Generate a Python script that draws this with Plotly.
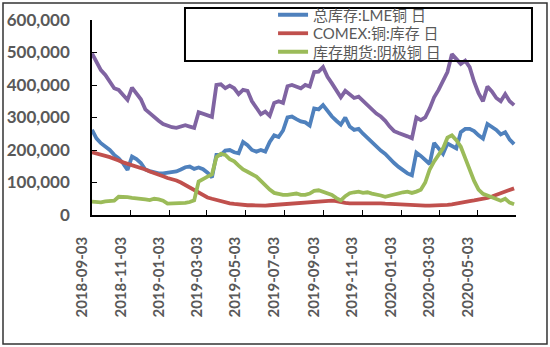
import pandas as pd
import plotly.graph_objects as go

# weekly observation dates (Mondays) starting 2018-09-03
start_date = "2018-09-03"
n_weeks = 96
dates = pd.date_range(start_date, periods=n_weeks, freq="7D")

# values in thousand tonnes
lme = [262, 236, 221, 210, 200, 185, 174, 159, 139, 180, 172, 160, 140, 135, 130, 128,
       128, 130, 133, 134, 140, 147, 149, 142, 146, 141, 130, 116, 185, 185, 198, 200,
       193, 190, 225, 215, 200, 195, 200, 195, 225, 245, 240, 260, 300, 303, 295, 288,
       285, 275, 328, 325, 338, 318, 303, 290, 278, 300, 272, 262, 265, 250, 236, 226,
       212, 198, 188, 172, 160, 148, 138, 128, 122, 192, 182, 170, 157, 222, 205, 188,
       220, 213, 205, 255, 265, 265, 258, 245, 235, 280, 272, 262, 248, 255, 232, 218]
comex = [193, 190, 186, 182, 178, 174, 168, 162, 158, 154, 150, 146, 140, 134, 128, 124,
         119, 114, 111, 106, 100, 92, 84, 76, 68, 60, 54, 50, 46, 42, 38, 36,
         34, 32, 31, 30, 30, 29, 29, 29, 30, 31, 32, 33, 34, 36, 37, 38,
         39, 40, 41, 42, 43, 44, 44, 43, 39, 37, 36, 36, 37, 38, 38, 37,
         36, 36, 35, 34, 33, 32, 32, 31, 30, 30, 29, 29, 29, 29, 29, 30,
         31, 33, 36, 39, 41, 43, 45, 47, 50, 53, 57, 62, 67, 72, 76, 82]
shfe = [41, 40, 39, 42, 43, 44, 56, 56, 55, 53, 52, 50, 48, 46, 50, 48,
        44, 35, 35, 36, 36, 37, 40, 45, 103, 112, 118, 125, 178, 188, 185, 172,
        165, 152, 140, 133, 125, 118, 105, 90, 78, 68, 64, 62, 62, 64, 66, 62,
        62, 66, 74, 76, 72, 68, 62, 52, 45, 58, 67, 70, 72, 68, 70, 66,
        64, 60, 56, 60, 62, 66, 70, 72, 68, 72, 78, 100, 140, 165, 185, 205,
        238, 245, 230, 210, 175, 140, 105, 78, 65, 60, 55, 50, 44, 50, 38, 33]
total = [497, 472, 446, 431, 412, 390, 385, 369, 354, 392, 376, 356, 325, 312, 303, 290,
         280, 274, 270, 268, 272, 276, 272, 268, 316, 312, 305, 302, 400, 402, 390, 398,
         390, 372, 385, 382, 350, 330, 310, 318, 305, 345, 350, 345, 396, 400, 396, 390,
         400, 395, 440, 441, 455, 425, 405, 383, 362, 382, 372, 360, 364, 350, 338, 323,
         312, 303, 290, 272, 258, 252, 248, 242, 236, 300, 292, 300, 328, 362, 385, 410,
         440, 495, 480, 465, 475, 455, 410, 375, 350, 395, 380, 360, 350, 372, 350, 338]

names = ["总库存:LME铜 日", "COMEX:铜:库存 日", "库存期货:阴极铜 日"]
tick_dates = ["2018-09-03", "2018-11-03", "2019-01-03", "2019-03-03", "2019-05-03",
              "2019-07-03", "2019-09-03", "2019-11-03", "2020-01-03", "2020-03-03",
              "2020-05-03"]
x_end = "2020-07-02"

colors = ["#4F81BD", "#C0504D", "#9BBB59", "#8064A2"]
series = [lme, comex, shfe, total]
labels = names + ["合计"]
legend_ids = ["legend", "legend2", "legend3", "legend"]

fig = go.Figure()
for i, (vals, nm, col) in enumerate(zip(series, labels, colors)):
    fig.add_trace(go.Scatter(
        x=dates, y=[v * 1000 for v in vals], mode="lines", name=nm,
        line=dict(color=col, width=3.8), showlegend=(i < 3),
        legend=legend_ids[i]))

x_font = dict(family="Lato", size=15, color="#595959", weight=700)
y_font = dict(family="Lato", size=17, color="#595959", weight=700)
leg_font = dict(family="Lato, Noto Sans CJK SC", size=15, color="#595959")


def leg(y):
    return dict(x=0.427, y=y, xanchor="left", yanchor="middle",
                bgcolor="rgba(0,0,0,0)", borderwidth=0, font=leg_font,
                itemwidth=30)


fig.update_layout(
    width=550, height=347,
    margin=dict(l=92, r=34, t=20, b=132, autoexpand=False),
    paper_bgcolor="white", plot_bgcolor="white",
    showlegend=True,
    legend=leg(1.0256), legend2=leg(0.9308), legend3=leg(0.8359),
    xaxis=dict(type="date", range=[start_date, x_end], tickvals=tick_dates,
               tickformat="%Y-%m-%d", tickangle=-90, ticks="inside", ticklen=5,
               tickcolor="black", showline=True, linecolor="black", linewidth=1.5,
               showgrid=False, zeroline=False, tickfont=x_font,
               ticklabelstandoff=14, ticklabelshift=-10, automargin=False),
    yaxis=dict(range=[0, 600000], dtick=100000, tickformat=",", ticks="inside",
               ticklen=5, tickcolor="black", showline=True, linecolor="black",
               linewidth=1.5, showgrid=False, zeroline=False, tickfont=y_font,
               ticklabelstandoff=17, automargin=False),
    shapes=[
        dict(type="rect", xref="paper", yref="paper", x0=-0.2099, x1=1.0731,
             y0=-0.6615, y1=1.0872, line=dict(color="#333333", width=1.5)),
        dict(type="rect", xref="paper", yref="paper", x0=0.2193, x1=1.0377,
             y0=0.7897, y1=1.0615, line=dict(color="black", width=2)),
    ],
)

fig.write_html("out.html")
